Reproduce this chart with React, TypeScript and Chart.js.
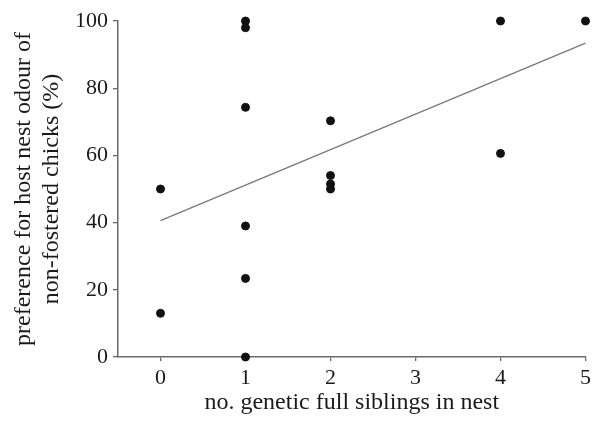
import React, { useEffect, useRef } from "react";
import { Chart, registerables } from "chart.js";

Chart.register(...registerables);

// nest x-values (no. genetic full siblings) and preference (%)
const siblings = [0, 0, 1, 1, 1, 1, 1, 1, 2, 2, 2, 2, 4, 4, 5];
const preference = [50, 13, 100, 98, 74.3, 39, 23.4, 0, 70.3, 54, 51.5, 50, 100, 60.6, 100];

// regression line end points
const fitX = [0, 5];
const fitY = [40.6, 93.4];

const xTicks = [0, 1, 2, 3, 4, 5];
const yTicks = [0, 20, 40, 60, 80, 100];

const xTitle = "no. genetic full siblings in nest";
const yTitle = ["preference for host nest odour of", "non-fostered chicks (%)"];

const FONT = "'Liberation Serif', 'Times New Roman', serif";
const AXIS = "#6a6a6a";
const TEXT = "#1a1a1a";

export default function App() {
  const ref = useRef<HTMLCanvasElement | null>(null);

  useEffect(() => {
    if (!ref.current) return;
    const chart = new Chart(ref.current, {
      type: "scatter",
      data: {
        datasets: [
          {
            type: "scatter",
            data: siblings.map((x, i) => ({ x, y: preference[i] })),
            backgroundColor: "#111",
            borderColor: "#111",
            pointRadius: 4,
            pointHoverRadius: 4,
            clip: false,
            order: 1,
          },
          {
            type: "line",
            data: fitX.map((x, i) => ({ x, y: fitY[i] })),
            borderColor: "#777",
            borderWidth: 1.2,
            pointRadius: 0,
            fill: false,
            clip: false,
            order: 2,
          },
        ],
      },
      options: {
        responsive: false,
        animation: false,
        layout: { padding: { left: 0, right: 9, top: 21, bottom: 0 } },
        plugins: { legend: { display: false }, tooltip: { enabled: false } },
        scales: {
          x: {
            type: "linear",
            min: -0.5,
            max: 5,
            afterBuildTicks: (scale: any) => {
              scale.ticks = xTicks.map((v) => ({ value: v }));
            },
            afterFit: (scale: any) => {
              scale.height = 64;
            },
            ticks: {
              font: { family: FONT, size: 22 },
              color: TEXT,
              padding: 4,
              maxRotation: 0,
              callback: (v: any) => String(v),
            },
            grid: {
              drawOnChartArea: false,
              drawTicks: true,
              tickLength: 4,
              color: AXIS,
              lineWidth: 1.3,
            },
            border: { display: true, color: AXIS, width: 1.5 },
            title: {
              display: true,
              text: xTitle,
              font: { family: FONT, size: 24, lineHeight: 1.15 },
              color: TEXT,
              padding: { top: 0, bottom: 4 },
            },
          },
          y: {
            type: "linear",
            min: 0,
            max: 100,
            afterBuildTicks: (scale: any) => {
              scale.ticks = yTicks.map((v) => ({ value: v }));
            },
            afterFit: (scale: any) => {
              scale.width = 118;
            },
            ticks: {
              font: { family: FONT, size: 22 },
              color: TEXT,
              padding: 5,
              callback: (v: any) => String(v),
            },
            grid: {
              drawOnChartArea: false,
              drawTicks: true,
              tickLength: 5,
              color: AXIS,
              lineWidth: 1.3,
            },
            border: { display: true, color: AXIS, width: 1.5 },
            title: {
              display: true,
              text: yTitle,
              font: { family: FONT, size: 24, lineHeight: 1.15 },
              color: TEXT,
              padding: { top: 10, bottom: 0 },
            },
          },
        },
      },
    });
    return () => chart.destroy();
  }, []);

  return (
    <div style={{ position: "absolute", left: 0, top: 0, width: 595, height: 421, background: "#fff" }}>
      <canvas ref={ref} width={595} height={421} style={{ display: "block" }} />
    </div>
  );
}
